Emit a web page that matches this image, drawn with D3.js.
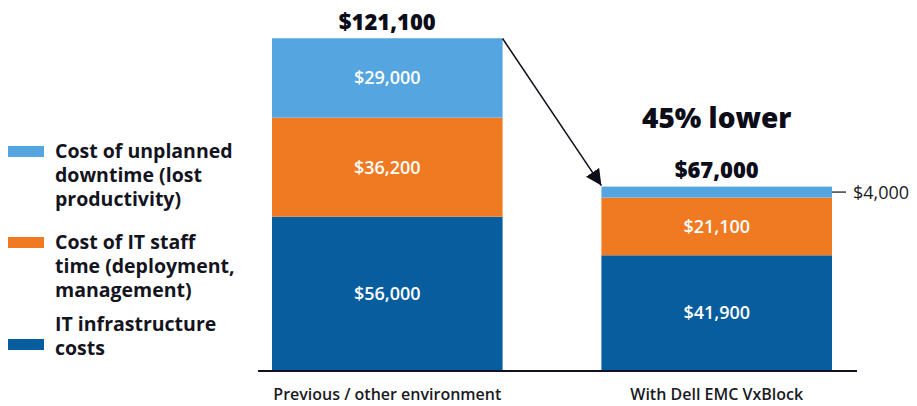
<!DOCTYPE html>
<html>
<head>
<meta charset="utf-8">
<script src="https://cdn.jsdelivr.net/npm/d3@7"></script>
<style>
  body { margin: 0; background: #fff; }
  svg text { font-family: "Open Sans", sans-serif; }
</style>
</head>
<body>
<div id="chart"></div>
<script>
var categories = ["Previous / other environment", "With Dell EMC VxBlock"];
var series = ["IT infrastructure costs", "Cost of IT staff time (deployment, management)", "Cost of unplanned downtime (lost productivity)"];
var infra = [56000, 41900];
var staff = [36200, 21100];
var downtime = [29000, 4000];
var totals = [121100, 67000];
var colors = ["#075d9e", "#f07a22", "#55a5e1"];

var legendLines = [
  ["Cost of unplanned", "downtime (lost", "productivity)"],
  ["Cost of IT staff", "time (deployment,", "management)"],
  ["IT infrastructure", "costs"]
];
var legendColors = [colors[2], colors[1], colors[0]];

var W = 917, H = 406;
var svg = d3.select("#chart").append("svg").attr("width", W).attr("height", H);

var x = d3.scaleBand().domain(categories).range([272, 832]).paddingInner(0.3).paddingOuter(0);
var y = d3.scaleLinear().domain([0, 121100]).range([370, 38.5]);

var rows = categories.map(function (c, i) {
  return { cat: c, infra: infra[i], staff: staff[i], downtime: downtime[i] };
});
var stack = d3.stack().keys(["infra", "staff", "downtime"])(rows);

var layers = svg.selectAll("g.layer").data(stack).enter().append("g")
  .attr("fill", function (d, i) { return colors[i]; });

layers.selectAll("rect").data(function (d) { return d; }).enter().append("rect")
  .attr("x", function (d) { return x(d.data.cat); })
  .attr("y", function (d) { return y(d[1]); })
  .attr("width", x.bandwidth())
  .attr("height", function (d) { return y(d[0]) - y(d[1]); });

// value labels inside segments (skip the thin one)
layers.selectAll("text").data(function (d) { return d; }).enter()
  .filter(function (d) { return (d[1] - d[0]) > 10000; })
  .append("text")
  .attr("x", function (d) { return x(d.data.cat) + x.bandwidth() / 2; })
  .attr("y", function (d) { return (y(d[0]) + y(d[1])) / 2 + 6.5; })
  .attr("text-anchor", "middle")
  .attr("fill", "#fff")
  .attr("font-size", 18)
  .attr("font-weight", 600)
  .text(function (d) { return "$" + d3.format(",")(d[1] - d[0]); });

// baseline
svg.append("line").attr("x1", 258).attr("x2", 857).attr("y1", 371).attr("y2", 371)
  .attr("stroke", "#111122").attr("stroke-width", 2);

// totals
svg.selectAll("text.total").data(totals).enter().append("text")
  .attr("class", "total")
  .attr("x", function (d, i) { return x(categories[i]) + x.bandwidth() / 2; })
  .attr("y", function (d) { return y(d) - 9; })
  .attr("text-anchor", "middle")
  .attr("font-size", 22)
  .attr("font-weight", 800)
  .attr("fill", "#0d0d1a")
  .text(function (d) { return "$" + d3.format(",")(d); });

svg.append("text")
  .attr("x", x(categories[1]) + x.bandwidth() / 2)
  .attr("y", 128)
  .attr("text-anchor", "middle")
  .attr("font-size", 28)
  .attr("font-weight", 800)
  .attr("fill", "#0d0d1a")
  .text(Math.round((1 - totals[1] / totals[0]) * 100) + "% lower");

// category labels
svg.selectAll("text.cat").data(categories).enter().append("text")
  .attr("class", "cat")
  .attr("x", function (d) { return x(d) + x.bandwidth() / 2; })
  .attr("y", 400)
  .attr("text-anchor", "middle")
  .attr("font-size", 16)
  .attr("font-weight", 600)
  .attr("fill", "#1a1a24")
  .text(function (d) { return d; });

// arrow
svg.append("defs").append("marker")
  .attr("id", "ah").attr("viewBox", "0 0 10 10").attr("refX", 10).attr("refY", 5)
  .attr("markerWidth", 16).attr("markerHeight", 16).attr("orient", "auto")
  .attr("markerUnits", "userSpaceOnUse")
  .append("path").attr("d", "M0,0L10,5L0,10z").attr("fill", "#0d0d1a");
var x0 = x(categories[0]) + x.bandwidth(), x1 = x(categories[1]);
svg.append("line")
  .attr("x1", x0).attr("y1", y(totals[0]))
  .attr("x2", x1).attr("y2", y(totals[1]) - 1)
  .attr("stroke", "#0d0d1a").attr("stroke-width", 1.5)
  .attr("marker-end", "url(#ah)");

// $4,000 callout
var xr = x(categories[1]) + x.bandwidth();
var ym = (y(infra[1] + staff[1]) + y(totals[1])) / 2;
svg.append("line").attr("x1", xr).attr("x2", xr + 14).attr("y1", ym).attr("y2", ym)
  .attr("stroke", "#0d0d1a").attr("stroke-width", 1.2);
svg.append("text").attr("x", xr + 21).attr("y", ym + 6.5)
  .attr("font-size", 18).attr("fill", "#1a1a24")
  .text("$" + d3.format(",")(downtime[1]));

// legend
var lg = svg.selectAll("g.leg").data(legendLines).enter().append("g")
  .attr("transform", function (d, i) { return "translate(0," + [146, 237, 339][i] + ")"; });
lg.append("rect").attr("x", 8).attr("y", 0).attr("width", 36).attr("height", 11)
  .attr("fill", function (d, i) { return legendColors[i]; });
lg.each(function (d, i) {
  var g = d3.select(this);
  var off = i === 2 ? -8 : 12;
  d.forEach(function (line, k) {
    g.append("text").attr("x", 55).attr("y", off + k * 24)
      .attr("font-size", 19.5).attr("font-weight", 700).attr("fill", "#14141f")
      .text(line);
  });
});
</script>
</body>
</html>
